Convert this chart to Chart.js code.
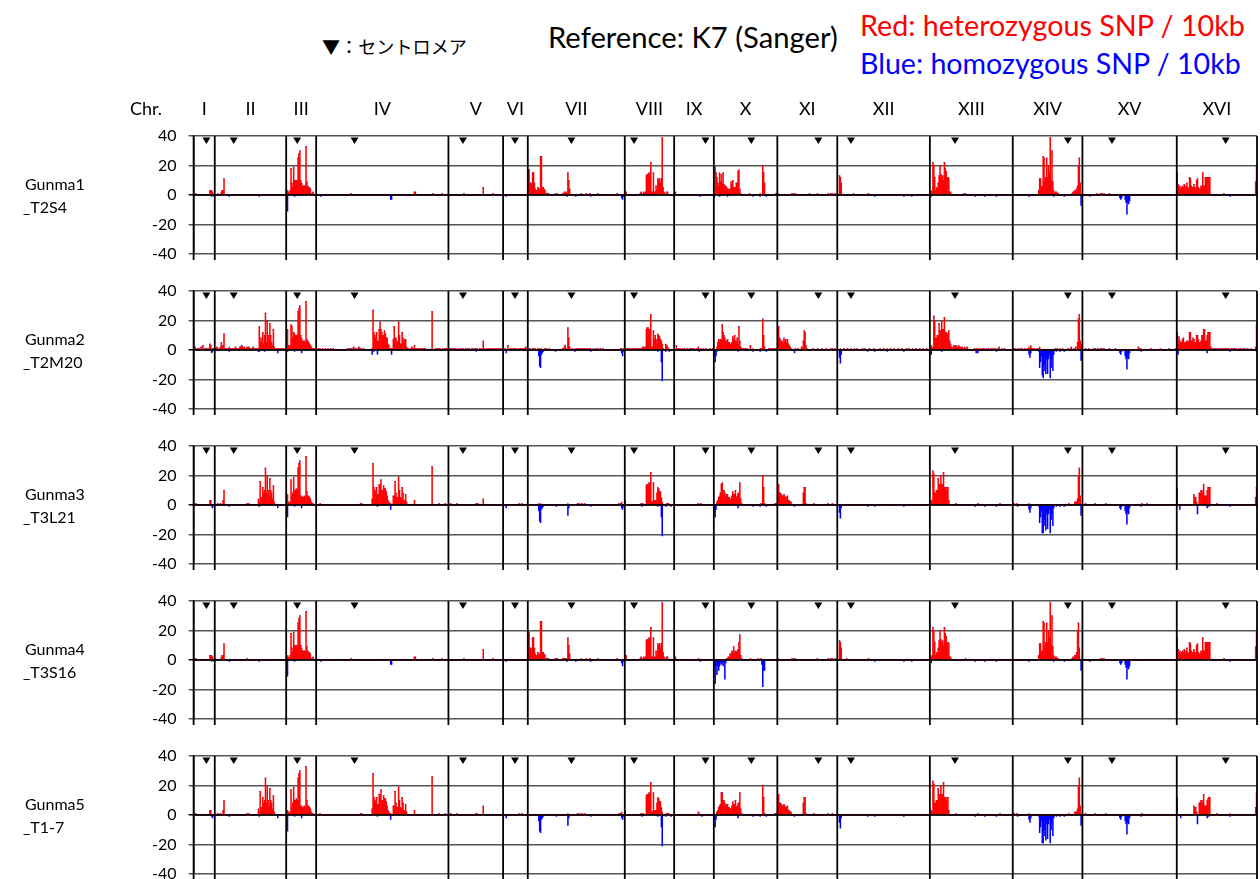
<!DOCTYPE html>
<html>
<head>
<meta charset="utf-8">
<script src="https://cdn.jsdelivr.net/npm/chart.js@4.4.1/dist/chart.umd.min.js"></script>
<style>
  body { margin: 0; width: 1260px; height: 879px; overflow: hidden; background: #fff; position: relative; font-family: Lato, "Noto Sans", sans-serif; }
  .txt { position: absolute; white-space: nowrap; line-height: 1; }
  canvas { position: absolute; left: 0; }
</style>
</head>
<body>
<div class="txt" id="tCen" style="font-family:'Noto Sans CJK JP', Lato, sans-serif">▼：セントロメア</div>
<div class="txt" id="tRef">Reference: K7 (Sanger)</div>
<div class="txt" id="tRed" style="color:#ff0000">Red: heterozygous SNP / 10kb</div>
<div class="txt" id="tBlue" style="color:#0000ff">Blue: homozygous SNP / 10kb</div>

<script>
// ===== GENOME LAYOUT (10kb bins) =====
const chrNames = ["I","II","III","IV","V","VI","VII","VIII","IX","X","XI","XII","XIII","XIV","XV","XVI"];
const chrBins  = [24, 81, 34, 150, 62, 28, 110, 56, 45, 72, 68, 105, 94, 79, 107, 91];
const cenBins  = [14, 21, 12, 43, 16, 13, 49, 10, 35, 42, 46, 15, 28, 62, 33, 55];
const yTicks   = [-40, -20, 0, 20, 40];
const sampleNames = [["Gunma1", "_T2S4"], ["Gunma2", "_T2M20"], ["Gunma3", "_T3L21"], ["Gunma4", "_T3S16"], ["Gunma5", "_T1-7"]];

// ===== SNP COUNTS: [chromosome, first bin, values...] =====
const het1 = [
  ["I", 2, [1]], ["I", 18, [3,3,3,2]],
  ["II", 3, [1]], ["II", 7, [2,3,3,11]],
  ["III", 0, [3,3,2,1,3,18,8,5,19,10,10,10,10,25,28,30,10,8,6,6,6,6,33,9,6,5,5,4,1,1,2]],
  ["IV", 39, [1]], ["IV", 111, [2,2]], ["IV", 132, [1]], ["IV", 142, [1]],
  ["V", 17, [1]], ["V", 39, [5]], ["V", 50, [1]],
  ["VII", 0, [17,17,8,8,7,15,15,8,4,3,3,5,4,4,26,26,5,5,4,3,1,1,1,1]],
  ["VII", 31, [1,0,1]], ["VII", 39, [1,0,2,1,2,0,15,10,4]], ["VII", 60, [1]], ["VII", 66, [1]], ["VII", 70, [1]], ["VII", 79, [1]], ["VII", 101, [1]],
  ["VIII", 1, [2]], ["VIII", 17, [1,2,1,0,2,1,2,13,14,14,15,14,22,2,2,15,2,2,6,3,11,10,11,8,11,39,5,2,1,0,2,2]],
  ["IX", 1, [2]],
  ["X", 0, [0,19,15,12,8,6,15,9,14,8,15,7,6,6,5,4,4,3,4,9,7,10,5,5,5,8,8,16,17,4,1]],
  ["X", 40, [1]], ["X", 52, [1]], ["X", 55, [20,15,8]], ["X", 70, [1,1]],
  ["XI", 0, [1]], ["XI", 16, [1,0,1,0,1]], ["XI", 36, [1]], ["XI", 45, [1]], ["XI", 57, [1,0,0,1,0,1]], ["XI", 65, [1]],
  ["XII", 2, [13,12,8]], ["XII", 18, [1]], ["XII", 35, [1]],
  ["XIII", 1, [3,2,22,20,12,3,5,4,8,13,20,14,12,13,10,22,18,16,12,12,11,2,2]], ["XIII", 38, [1,0,1]],
  ["XIV", 29, [3,11,11,5,6,26,25,10,12,25,12,20,15,39,10,30,9,3,1,2,2,1,1]], ["XIV", 67, [1,2,2,3,3,4,6,20,25,8]],
  ["XV", 16, [1]], ["XV", 20, [1,0,1,0,1]], ["XV", 30, [1]],
  ["XVI", 0, [15,7,5,6,4,5,6,5,7,4,6,8,5,4,12,11,6,5,5,7,5,4,10,11,5,4,4,6,5,15,6,6,12,12,12,12,12,12]], ["XVI", 53, [1]], ["XVI", 89, [9,20]]
];
const hom1 = [
  ["I", 20, [1]], ["I", 23, [1]],
  ["II", 16, [1]], ["II", 50, [1]],
  ["III", 1, [11]], ["III", 9, [1]],
  ["IV", 5, [1]], ["IV", 84, [3,3]],
  ["VI", 3, [1]],
  ["VII", 44, [1]], ["VII", 54, [1]], ["VII", 71, [1]], ["VII", 106, [2,3,1]],
  ["VIII", 55, [1]],
  ["IX", 29, [1]],
  ["X", 0, [2]], ["X", 6, [1]], ["X", 15, [1]], ["X", 44, [1]], ["X", 52, [1]], ["X", 59, [1]],
  ["XII", 42, [1]], ["XII", 75, [1]], ["XII", 84, [1]],
  ["XIII", 1, [1]], ["XIII", 51, [1]], ["XIII", 62, [1]], ["XIII", 75, [1]],
  ["XIV", 18, [1]], ["XIV", 46, [1]], ["XIV", 58, [1]], ["XIV", 77, [7]],
  ["XV", 8, [1]], ["XV", 42, [2,3,2]], ["XV", 48, [3,5,13,5,6,4]],
  ["XVI", 60, [1]]
];

const het2 = [
  ["I", 0, [0,2,1,0,1,0,1,0,2,1,3,0,1,0,1,0,1,0,4,3,1,0,1,0]],
  ["II", 0, [1,1,2,1,0,1,2,5,2,3, 11,1,1,0,1,1,2,1,0,1, 1,0,1,2,1,1,0,1,2,2, 3,2,1,2,1,1,2,1,2,1,
             1,0,1,2,1,0,1,1,1,1, 16,5,8,6,12,4,10,25,5,20, 10,6,18,10,5,3,14,2,0,1, 0,1,1,0,1,0,1,1,0,1,1]],
  ["III", 0, [14,14,3,2,3,17,16,8,12,11,10,10,10,26,28,30,10,8,6,6,6,5,33,7,6,5,4,3,2,1,1,1]],
  ["IV", 0, [0,0,1,0,1,0,0,1,0,0, 1,0,0,1,0,0,1,0,0,1, 0,0,0,0,0,0,0,0,0,0, 0,0,0,0,0,1,0,1,1,0,
             1,0,2,1,0,1,0,1,2,1, 0,1,0,0,1,0,0,0,0,0, 0,0,0,1,27,12,10,8,12,6, 6,14,19,14,12,10,10,13,11,8,
             8,4,3,1,1,1,1,7,16,8, 8,6,5,19,10,4,4,12,8,5, 7,7,2,1,1,0,0,1,2,1, 1,3,1,1,0,1,1,0,1,1,
             1,0,1,1,0,0,0,0,0,0, 0,26,0,0,0,1,0,1,0,1, 1,0,0,1,0,1,0,1,1,0]],
  ["V", 0, [1,1,0,1,0,1,1,0,1,0, 0,1,0,0,1,0,1,0,0,1, 0,1,0,1,0,0,1,0,1,0, 1,0,1,0,0,1,0,1,0,6,
            1,0,0,1,0,1,0,1,0,1, 0,1,1,0,1,0,1,0,1,1,0,1]],
  ["VI", 0, [0,0,1,0,0,3,0,1,0,1,0,1,1,0,1,0,0,1,0,1,1,0,1,0,1,2,0,1]],
  ["VII", 0, [0,0,1,0,0,1,1,0,1,0, 0,1,0,1,0,1,0,0,0,1, 0,1,0,0,1,0,0,0,0,0, 0,0,0,0,0,0,0,0,0,1,
              1,2,3,1,0,15,8,2,0,0, 1,0,0,1,0,1,1,0,1,1, 0,1,0,1,1,0,1,0,1,0, 1,1,0,0,1,0,0,1,0,1,
              0,0,1,0,0,1,0,0,0,0, 0,0,0,0,0,0,0,0,0,0, 0,0,0,0,0,1,1,0,1,0]],
  ["VIII", 0, [1,1,0,1,1,0,1,0,1,1, 0,1,1,0,1,1,0,1,1,0, 2,2,1,2,14,15,15,14,14,24, 2,2,13,7,10,7,4,11,10,9,
               7,6,4,1,0,0,4,3,2,1, 0,0,0,0,0,0]],
  ["IX", 0, [0,0,3,0,1,0,1,0,0,1, 0,1,0,0,1,0,0,1,1,0, 1,0,1,0,0,1,0,2,0,0, 1,0,0,1,0,0,1,0,0,0, 1,0,0,1,0]],
  ["X", 0, [0,0,0,2,5,7,6,7,7,17, 12,10,8,6,6,7,5,5,4,4, 5,9,7,10,6,6,8,4,16,6, 2,1,1,1,0,1,0,1,0,0,
            0,3,0,0,1,0,0,0,0,0, 0,0,1,1,0,21,10,2,0,0, 0,0,1,0,1,1,0,1,0,1,1,0]],
  ["XI", 0, [2,16,8,7,5,6,4,8,6,7, 5,7,4,3,2,1,0,0,0,0, 1,0,0,1,0,0,0,2,1,6, 13,12,3,1,0,0,0,0,0,0,
             1,0,0,0,0,1,0,0,0,0, 1,0,0,0,0,1,0,0,0,0, 1,0,1,0,0,1,0,0]],
  ["XII", 0, [0,0,0,1,0,0,0,1,0,0, 0,1,0,0,0,1,0,0,0,1, 0,0,1,0,0,0,0,0,1,0, 0,1,0,0,0,0,1,0,0,0,
              0,1,0,0,0,0,0,0,1,0, 0,0,1,0,0,0,1,0,0,0, 1,0,0,0,1,0,0,0,0,1, 0,0,0,1,0,0,0,0,1,0,
              0,1,0,0,0,1,0,0,0,1, 0,0,0,1,0,0,0,1,0,0, 0,1,0,0,0]],
  ["XIII", 0, [0,3,1,2,23,20,8,8,10,10, 18,13,13,20,14,14,22,12,12,11, 11,13,6,4,2,1,2,3,2,3, 2,2,3,2,2,1,2,1,1,2,
               1,1,2,0,0,0,0,0,0,0, 1,0,1,0,1,0,1,0,0,1, 0,1,0,0,1,0,1,0,0,1, 0,1,0,1,0,0,1,0,2,0,
               0,1,0,0,1,0,0,0,0,0,0,0,0,0]],
  ["XIV", 0, [1,0,1,0,0,1,0,0,1,0, 1,0,0,1,0,0,1,0,2,1, 3,1,1,0,1,0,0,1,0,1, 2,0,0,0,0,0,0,0,0,0,
              0,0,0,0,0,0,0,0,1,0, 1,0,0,1,0,0,1,0,0,0, 0,0,1,0,0,1,2,0,0,1, 0,2,0,5,21,24,6,4,0]],
  ["XV", 0, [0,0,0,1,0,0,0,1,0,0, 0,0,1,0,1,0,0,1,0,0, 1,0,1,0,1,0,0,0,0,0, 1,0,0,0,0,0,0,1,0,0,
             0,0,0,0,0,0,0,0,0,0, 0,0,0,0,0,0,0,0,0,0, 0,0,0,2,1,0,1,0,0,0, 0,0,0,0,0,0,0,1,0,0,
             0,0,0,0,0,0,0,0,1,0, 0,0,0,0,0,0,0,0,1,0, 0,0,0,0,0,1,0]],
  ["XVI", 0, [12,4,9,6,5,5,7,8,5,5, 5,6,6,5,12,12,6,6,8,7, 5,5,10,10,7,5,5,6,10,10, 14,14,6,6,10,12,12,12,2,1,
              0,1,0,1,1,0,1,0,1,1, 0,1,0,1,0,1,1,0,1,0, 1,0,1,0,1,1,0,1,0,0, 1,0,1,0,0,1,0,1,0,0,
              1,0,0,0,1,0,0,0,0,2,17]]
];
const hom2 = [
  ["I", 20, [2,1]],
  ["II", 16, [1]], ["II", 49, [1,1]], ["II", 56, [1]], ["II", 71, [2]],
  ["III", 1, [1]], ["III", 9, [1]], ["III", 17, [2]],
  ["IV", 63, [3,0,1]], ["IV", 69, [3]], ["IV", 85, [3]],
  ["V", 31, [1]],
  ["VI", 3, [2]],
  ["VII", 12, [4,11,12,3,2,1]], ["VII", 31, [1]], ["VII", 53, [1]], ["VII", 71, [1]], ["VII", 106, [2,4,1]],
  ["VIII", 37, [1]], ["VIII", 41, [8,21]], ["VIII", 46, [1]], ["VIII", 50, [1]],
  ["IX", 28, [1]],
  ["X", 0, [3,8,4,1]], ["X", 27, [1]], ["X", 44, [1]], ["X", 52, [1]], ["X", 59, [1]],
  ["XI", 19, [2]],
  ["XII", 2, [5,9,3]], ["XII", 34, [1]], ["XII", 42, [1]], ["XII", 56, [1]], ["XII", 75, [1]],
  ["XIII", 1, [3]], ["XIII", 13, [1]], ["XIII", 52, [2,0,2]], ["XIII", 75, [1]],
  ["XIV", 18, [3,5,2]], ["XIV", 29, [1,12,8,4,17,19,10,14,16,6,16,6,3,19,12,6,14,3]], ["XIV", 49, [1]], ["XIV", 53, [1]], ["XIV", 58, [1]], ["XIV", 77, [7]],
  ["XV", 42, [2,3,1]], ["XV", 48, [4,6,13,5,6,2]], ["XV", 66, [1]],
  ["XVI", 1, [3]], ["XVI", 34, [2]], ["XVI", 60, [1]], ["XVI", 90, [1]]
];

const het3 = [
  ["I", 2, [1]], ["I", 18, [3,3]],
  ["II", 3, [1]], ["II", 6, [1]], ["II", 9, [3,10]], ["II", 36, [1,0,1]], ["II", 49, [4,2,16,5,5,12,8,10,25,8,20,10,6,18,10,8,4,13,2]],
  ["III", 0, [7,7,2,1,2,17,5,8,19,10,10,11,10,25,28,30,6,6,5,5,6,5,33,9,6,6,5,4,2,1,1]],
  ["IV", 4, [1]], ["IV", 50, [1,1]],
  ["IV", 63, [4,28,12,10,9,12,7,7,14,13,17,10,10,13,11,11,9,6,3,2,1,1,0,0,6,6,16,8,5,5,19,10,5,4,12,8,3,3,7,2]],
  ["IV", 111, [3]], ["IV", 131, [26]], ["IV", 139, [1]], ["IV", 146, [1]],
  ["V", 2, [1]], ["V", 9, [1]], ["V", 31, [1,0,1]], ["V", 39, [4]],
  ["VI", 18, [1]], ["VI", 21, [1]],
  ["VII", 12, [1,0,1]], ["VII", 45, [1]], ["VII", 56, [1,0,1,0,0,1,0,0,1]], ["VII", 103, [1,0,1,2]],
  ["VIII", 0, [3]], ["VIII", 18, [1,0,1]], ["VIII", 24, [13,14,14,15,14,22,2,2,15,3,3,3,8,12,11,9,9,5,2]], ["VIII", 47, [1,1,1]],
  ["IX", 27, [1,0,0,1]],
  ["X", 3, [2,3,5,6,8,14,15,10,10,8,6,7,7,5,5,4,4,6,9,7,7,10,5,6,8,8,15,4,1]], ["X", 53, [1]], ["X", 55, [20,12,1]], ["X", 69, [1,1,1]],
  ["XI", 0, [4,14,8,8,7,6,6,7,6,5,5,6,3,3,2,2]], ["XI", 29, [8,12,12,1]], ["XI", 41, [1]], ["XI", 57, [1]], ["XI", 62, [1]],
  ["XIII", 1, [3,2,23,21,8,8,10,10,18,14,14,20,14,14,22,12,12,10,12,12,3]], ["XIII", 29, [1]], ["XIII", 54, [1]], ["XIII", 79, [1]],
  ["XIV", 1, [1,0,0,1]], ["XIV", 18, [1]], ["XIV", 63, [1]], ["XIV", 70, [2,2,2,4,20,25,6]],
  ["XV", 3, [1]], ["XV", 14, [1]], ["XV", 26, [1]], ["XV", 67, [1]], ["XV", 73, [1]],
  ["XVI", 0, [11]], ["XVI", 19, [7,5,5,2,0,0,8,8,10,10,8,14,6,6,6,10,12,12,12]], ["XVI", 45, [1]], ["XVI", 89, [5,12]]
];
const hom3 = [
  ["I", 20, [1,2]],
  ["II", 16, [1]], ["II", 50, [1]], ["II", 71, [2]],
  ["III", 1, [8]], ["III", 9, [1]], ["III", 17, [2]],
  ["IV", 69, [1]], ["IV", 84, [3]],
  ["VI", 3, [2]],
  ["VII", 12, [4,11,12,3,2,1]], ["VII", 32, [1]], ["VII", 45, [7,2]], ["VII", 71, [1]], ["VII", 106, [2,3,1]],
  ["VIII", 19, [1]], ["VIII", 37, [1]], ["VIII", 41, [8,21]], ["VIII", 46, [1]], ["VIII", 52, [1]],
  ["X", 0, [3,8,3]], ["X", 27, [2]], ["X", 44, [1]], ["X", 52, [1]], ["X", 59, [1]],
  ["XI", 19, [1]],
  ["XII", 2, [5,9,2]], ["XII", 34, [1]], ["XII", 42, [1]], ["XII", 75, [1]],
  ["XIII", 51, [1]], ["XIII", 62, [1]], ["XIII", 75, [1]],
  ["XIV", 5, [1]], ["XIV", 18, [3,5,2]], ["XIV", 29, [1,12,8,4,19,19,10,14,17,6,16,6,3,19,10,6,14,2]], ["XIV", 49, [1]], ["XIV", 53, [1]], ["XIV", 58, [1]], ["XIV", 77, [7]],
  ["XV", 42, [2,3,1]], ["XV", 48, [4,6,13,5,6,2]], ["XV", 66, [1]],
  ["XVI", 3, [3]], ["XVI", 23, [6]], ["XVI", 34, [2]], ["XVI", 36, [1]], ["XVI", 60, [1]]
];

const het4 = [
  ["I", 2, [1]], ["I", 18, [3,3,3,2]],
  ["II", 7, [2,3,3,11]], ["II", 36, [1]],
  ["III", 0, [3,3,2,1,3,18,8,5,19,10,10,10,10,25,28,30,10,8,6,6,6,6,33,9,6,5,5,4,1,1,2]],
  ["IV", 39, [1]], ["IV", 111, [2,2]], ["IV", 132, [1]], ["IV", 142, [1]],
  ["V", 17, [1]], ["V", 39, [7]], ["V", 50, [1]],
  ["VII", 0, [19,19,8,8,7,15,15,8,4,3,3,5,4,4,26,26,5,5,4,3,1,1,1,1]],
  ["VII", 31, [1,1,1]], ["VII", 39, [1,1,1,1,1,0,15,10,4]], ["VII", 60, [1]], ["VII", 66, [1]], ["VII", 70, [1]], ["VII", 79, [1]], ["VII", 101, [1]],
  ["VIII", 1, [3]], ["VIII", 17, [1,2,1,0,2,1,2,13,14,14,15,14,22,2,2,15,2,2,6,3,11,10,11,8,11,39,5,2,1,0,2,2]],
  ["IX", 1, [2]], ["IX", 27, [1]],
  ["X", 14, [1,1,2,2,4,4,6,5,9,5,6,5,6,7,12,17,3,1]], ["X", 41, [1]], ["X", 50, [1]], ["X", 53, [1]],
  ["XI", 0, [1]], ["XI", 16, [1,0,1,0,1]], ["XI", 45, [1]], ["XI", 57, [1,0,0,1,0,1]], ["XI", 65, [1]],
  ["XII", 2, [13,12,8]], ["XII", 10, [1]], ["XII", 35, [1]],
  ["XIII", 1, [3,2,22,20,12,3,5,4,8,13,20,14,12,13,10,22,18,16,12,12,11,2,2]], ["XIII", 40, [1]],
  ["XIV", 29, [3,11,11,5,6,26,25,10,12,25,12,20,15,39,10,30,9,3,1,2,2,1,1]], ["XIV", 67, [1,2,2,3,3,5,20,25,8]],
  ["XV", 20, [1,0,1,0,1]],
  ["XVI", 0, [15,7,5,6,4,5,6,5,7,4,6,8,5,4,12,11,6,5,5,7,5,4,10,11,5,4,4,6,5,15,6,6,12,12,12,12,12,12]], ["XVI", 53, [1]], ["XVI", 89, [9,20]]
];
const hom4 = [
  ["I", 20, [1]], ["I", 23, [1]],
  ["II", 16, [1]], ["II", 50, [1]],
  ["III", 1, [11]], ["III", 9, [1]],
  ["IV", 5, [1]], ["IV", 84, [3,3]],
  ["VI", 3, [1]],
  ["VII", 44, [1]], ["VII", 54, [1]], ["VII", 71, [1]], ["VII", 106, [2,4,1]],
  ["VIII", 55, [1]],
  ["IX", 29, [1]],
  ["X", 0, [4,16,4,10,4,7,4,2,3,2,4,2,13,2]], ["X", 54, [3,18,7,7]],
  ["XII", 42, [1]], ["XII", 75, [1]], ["XII", 84, [1]],
  ["XIII", 1, [2]], ["XIII", 51, [1]], ["XIII", 62, [1]], ["XIII", 75, [1]],
  ["XIV", 18, [1]], ["XIV", 46, [1]], ["XIV", 58, [1]], ["XIV", 77, [7]],
  ["XV", 8, [1]], ["XV", 42, [2,3,2]], ["XV", 48, [3,5,13,5,6,4]],
  ["XVI", 60, [1]]
];

const het5 = [
  ["I", 2, [1]], ["I", 18, [3,3]],
  ["II", 3, [1]], ["II", 6, [1]], ["II", 9, [3,10]], ["II", 36, [1,0,1]], ["II", 49, [4,2,16,5,5,12,8,10,25,8,20,10,6,18,10,8,4,13,2]],
  ["III", 0, [3,3,2,1,2,17,5,8,19,10,10,11,10,25,28,30,6,6,5,5,6,5,33,10,6,6,5,4,2,1,1]],
  ["IV", 4, [1]], ["IV", 50, [1,1]],
  ["IV", 63, [4,28,12,10,9,12,7,7,14,13,17,10,10,13,11,11,9,6,3,2,1,1,0,0,6,6,16,8,5,5,19,10,5,4,12,8,3,3,7,2]],
  ["IV", 111, [3]], ["IV", 131, [26]], ["IV", 139, [1]], ["IV", 146, [1]],
  ["V", 2, [1]], ["V", 9, [1]], ["V", 31, [1,1]], ["V", 39, [6]],
  ["VI", 18, [1]], ["VI", 21, [1]],
  ["VII", 45, [1]], ["VII", 56, [1,0,1,0,0,1,0,0,1]], ["VII", 103, [1,0,1,2]],
  ["VIII", 0, [3]], ["VIII", 18, [1,0,1]], ["VIII", 24, [13,14,14,15,14,22,2,2,15,3,3,3,8,12,11,9,9,5,2]], ["VIII", 47, [1,1,1]],
  ["IX", 27, [2,1]],
  ["X", 3, [2,3,5,6,7,15,15,10,10,8,6,7,7,5,5,4,4,6,9,7,7,10,5,6,8,8,15,4,1]], ["X", 55, [20,12,1]], ["X", 69, [1,1,1]],
  ["XI", 0, [4,14,8,8,7,6,6,7,6,5,5,6,3,3,2,2]], ["XI", 29, [8,12,12,1]], ["XI", 41, [1]], ["XI", 57, [1]], ["XI", 62, [1]],
  ["XIII", 1, [3,2,23,21,8,8,10,10,18,14,14,20,14,14,22,12,12,10,12,12,3]], ["XIII", 29, [1]], ["XIII", 54, [1]], ["XIII", 79, [1]],
  ["XIV", 1, [1,0,0,1]], ["XIV", 18, [1]], ["XIV", 63, [1]], ["XIV", 70, [2,2,2,4,20,25,6]],
  ["XV", 3, [1]], ["XV", 14, [1]], ["XV", 26, [1]], ["XV", 67, [1]],
  ["XVI", 0, [12]], ["XVI", 19, [6,5,5,2,0,0,8,8,10,10,8,14,6,6,6,10,11,12,12]], ["XVI", 45, [1]], ["XVI", 60, [1]], ["XVI", 89, [5,15]]
];
const hom5 = [
  ["I", 20, [1,2]],
  ["II", 16, [1]], ["II", 50, [1]], ["II", 71, [2]],
  ["III", 1, [11]], ["III", 9, [1]], ["III", 17, [2]],
  ["IV", 69, [1]], ["IV", 84, [3]],
  ["VI", 3, [2]],
  ["VII", 12, [4,11,12,3,2,1]], ["VII", 32, [1]], ["VII", 45, [7,2]], ["VII", 71, [1]], ["VII", 106, [2,3,1]],
  ["VIII", 19, [1]], ["VIII", 37, [1]], ["VIII", 41, [8,21]], ["VIII", 46, [1]], ["VIII", 52, [1]],
  ["IX", 31, [1]],
  ["X", 0, [3,8,3]], ["X", 27, [2]], ["X", 44, [1]], ["X", 52, [1]], ["X", 59, [1]],
  ["XI", 19, [1]],
  ["XII", 2, [5,9,2]], ["XII", 34, [1]], ["XII", 42, [1]], ["XII", 75, [1]],
  ["XIII", 51, [1]], ["XIII", 62, [1]], ["XIII", 75, [1]],
  ["XIV", 5, [1]], ["XIV", 18, [3,5,2]], ["XIV", 29, [1,12,8,4,19,19,10,14,17,6,16,6,3,19,10,6,14,2]], ["XIV", 49, [1]], ["XIV", 53, [1]], ["XIV", 58, [1]], ["XIV", 77, [7]],
  ["XV", 42, [2,3,1]], ["XV", 48, [4,6,13,5,6,2]], ["XV", 66, [1]],
  ["XVI", 4, [2]], ["XVI", 23, [6]], ["XVI", 34, [2]], ["XVI", 36, [1]], ["XVI", 60, [1]]
];

const hetAll = [het1, het2, het3, het4, het5];
const homAll = [hom1, hom2, hom3, hom4, hom5];

// ===== HELPERS =====
const chrStart = [];
chrBins.reduce((acc, n) => { chrStart.push(acc); return acc + n; }, 0);
const totalBins = chrBins.reduce((a, b) => a + b, 0);

function expand(segs, sign) {
  const arr = new Array(totalBins).fill(0);
  segs.forEach(([c, s, vals]) => {
    const o = chrStart[chrNames.indexOf(c)] + s;
    vals.forEach((v, i) => { arr[o + i] = sign * v; });
  });
  return arr;
}

const FONT = "Lato, 'Noto Sans', sans-serif";
const PANEL_TOP = [136, 291, 446, 601, 756]; // pixel of y = 40
const PLOT_H = 118;

// ===== PLUGIN: chromosome boundaries, centromeres, labels =====
const chromPlugin = {
  id: "chrom",
  afterDatasetsDraw(chart, args, opts) {
    const { ctx, chartArea: a, scales: { x, y } } = chart;
    const half = (x.getPixelForValue(1) - x.getPixelForValue(0)) / 2;
    ctx.save();
    // zero line over the bars
    const y0 = y.getPixelForValue(0);
    ctx.strokeStyle = "#000";
    ctx.lineWidth = 1.3;
    ctx.beginPath(); ctx.moveTo(a.left, y0); ctx.lineTo(a.right, y0); ctx.stroke();
    // boundaries
    ctx.lineWidth = 1.8;
    chrStart.concat([totalBins]).forEach(b => {
      const px = x.getPixelForValue(b) - half;
      ctx.beginPath(); ctx.moveTo(px, a.top); ctx.lineTo(px, a.bottom + 6); ctx.stroke();
    });
    // centromeres
    ctx.fillStyle = "#000";
    cenBins.forEach((c, i) => {
      const px = x.getPixelForValue(chrStart[i] + c);
      ctx.beginPath();
      ctx.moveTo(px - 4, a.top + 1.5);
      ctx.lineTo(px + 4, a.top + 1.5);
      ctx.lineTo(px, a.top + 8);
      ctx.closePath(); ctx.fill();
    });
    // chromosome names
    if (opts.labels) {
      ctx.font = "18px " + FONT;
      ctx.textAlign = "center";
      ctx.textBaseline = "middle";
      const ly = a.top - 27;
      ctx.fillText("Chr.", 146, ly);
      chrNames.forEach((n, i) => {
        const cx = (x.getPixelForValue(chrStart[i]) + x.getPixelForValue(chrStart[i] + chrBins[i] - 1)) / 2;
        ctx.fillText(n, cx, ly);
      });
    }
    ctx.restore();
  }
};

// ===== PANELS =====
const labels = Array.from({ length: totalBins }, (_, i) => i);

hetAll.forEach((het, p) => {
  const padTop = p === 0 ? 50 : 30;
  const padBottom = 30;
  const cv = document.createElement("canvas");
  cv.width = 1260;
  cv.height = padTop + PLOT_H + padBottom;
  cv.style.top = (PANEL_TOP[p] - padTop) + "px";
  document.body.appendChild(cv);

  new Chart(cv, {
    type: "bar",
    data: {
      labels,
      datasets: [
        { data: expand(het, 1), backgroundColor: "#ff0000" },
        { data: expand(homAll[p], -1), backgroundColor: "#0000ff" }
      ]
    },
    options: {
      responsive: false,
      animation: false,
      events: [],
      layout: { padding: { left: 0, right: 3, top: padTop, bottom: padBottom } },
      datasets: { bar: { barPercentage: 1, categoryPercentage: 1, borderWidth: 0 } },
      plugins: { legend: { display: false }, tooltip: { enabled: false }, chrom: { labels: p === 0 } },
      scales: {
        x: { stacked: true, display: false },
        y: {
          stacked: true, min: -40, max: 40,
          afterBuildTicks: s => { s.ticks = yTicks.map(v => ({ value: v })); },
          afterFit: s => { s.width = 193.6; },
          ticks: { color: "#000", font: { size: 16, family: FONT }, padding: 12 },
          grid: { color: c => c.tick && c.tick.value === 0 ? "#000" : "#555", lineWidth: 1.5, tickLength: 5 },
          border: { color: "#000", width: 1.5 }
        }
      }
    },
    plugins: [chromPlugin]
  });

  // sample name
  const zero = PANEL_TOP[p] + PLOT_H / 2;
  sampleNames[p].forEach((t, k) => {
    const d = document.createElement("div");
    d.className = "txt";
    d.textContent = t;
    d.style.fontSize = "16px";
    d.style.left = (k === 0 ? 25 : 23) + "px";
    d.style.top = (zero + (k === 0 ? -11 : 12) - 8) + "px";
    document.body.appendChild(d);
  });
});

// ===== HEADER TEXTS =====
function place(id, x, cy, w) {
  const el = document.getElementById(id);
  el.style.fontSize = "20px";
  const r = el.getBoundingClientRect();
  el.style.fontSize = (20 * w / r.width) + "px";
  const r2 = el.getBoundingClientRect();
  el.style.left = x + "px";
  el.style.top = (cy - r2.height / 2) + "px";
}
place("tCen", 322, 46, 145);
place("tRef", 548, 37, 290);
place("tRed", 860, 25, 385);
place("tBlue", 860, 63, 381);
</script>
</body>
</html>
